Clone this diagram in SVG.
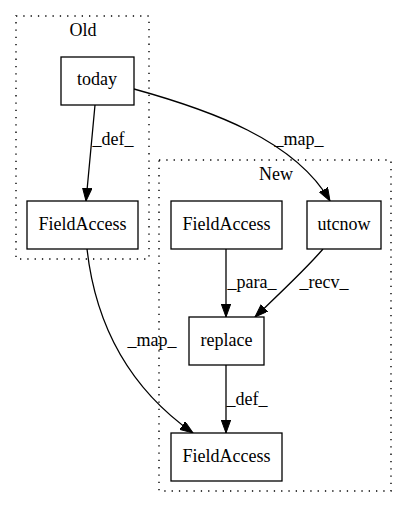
<svg xmlns="http://www.w3.org/2000/svg" width="408" height="508" viewBox="0 0 408 508">
<style>
text{font-family:"Liberation Serif","Times New Roman",serif;font-size:18px;fill:#000;text-anchor:middle}
.cl{fill:none;stroke:#000;stroke-dasharray:1.3,6;stroke-width:1.4}
.nd{fill:#fff;stroke:#000;stroke-width:1.3}
.ed{fill:none;stroke:#000;stroke-width:1.3}
</style>
<defs>
<marker id="ah" markerUnits="userSpaceOnUse" markerWidth="14" markerHeight="10" refX="13" refY="4.7" orient="auto">
<path d="M0,0 L13,4.7 L0,9.4 z" fill="#000" stroke="#000" stroke-width="1"/>
</marker>
</defs>
<g id="cluster-old">
<rect class="cl" x="16" y="16" width="133" height="243"/>
<text x="83" y="36">Old</text>
</g>
<g id="cluster-new">
<rect class="cl" x="159" y="160" width="232" height="331"/>
<text x="276" y="180">New</text>
</g>
<g id="connectors">
<path class="ed" d="M95,105 L86,201" marker-end="url(#ah)"/>
<text x="113" y="145">_def_</text>
<path class="ed" d="M134,89 C210,110 295,140 330,201" marker-end="url(#ah)"/>
<text x="299" y="145">_map_</text>
<path class="ed" d="M226,249 L226,317" marker-end="url(#ah)"/>
<text x="252" y="288">_para_</text>
<path class="ed" d="M323,249 C305,270 278,295 255,317" marker-end="url(#ah)"/>
<text x="324" y="288">_recv_</text>
<path class="ed" d="M226,365 L226,433" marker-end="url(#ah)"/>
<text x="247" y="405">_def_</text>
<path class="ed" d="M87,249 C95,320 125,385 193,433" marker-end="url(#ah)"/>
<text x="152" y="346">_map_</text>
</g>
<g id="node-today">
<rect class="nd" x="61" y="57" width="73" height="48"/>
<text x="97" y="85">today</text>
</g>
<g id="node-fieldaccess-old">
<rect class="nd" x="27" y="201" width="111" height="48"/>
<text x="82.5" y="230">FieldAccess</text>
</g>
<g id="node-fieldaccess-new">
<rect class="nd" x="171" y="201" width="111" height="48"/>
<text x="226.5" y="230">FieldAccess</text>
</g>
<g id="node-utcnow">
<rect class="nd" x="307" y="201" width="74" height="48"/>
<text x="344" y="230">utcnow</text>
</g>
<g id="node-replace">
<rect class="nd" x="189" y="317" width="75" height="48"/>
<text x="226.5" y="346">replace</text>
</g>
<g id="node-fieldaccess-result">
<rect class="nd" x="171" y="433" width="111" height="48"/>
<text x="226.5" y="462">FieldAccess</text>
</g>
</svg>
